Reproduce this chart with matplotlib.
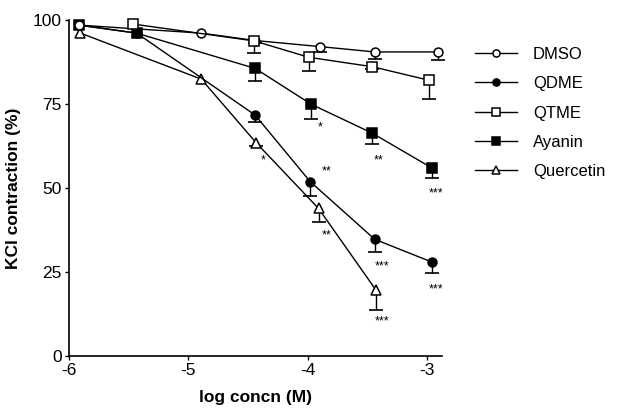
import numpy as np
import matplotlib
matplotlib.use('Agg')
import matplotlib.pyplot as plt

plt.rcParams['font.family'] = ['Liberation Sans', 'DejaVu Sans']
plt.rcParams['axes.unicode_minus'] = False

# log concentration (M) and % KCl contraction
x_dmso = [-5.915, -4.89, -4.44, -3.90, -3.44, -2.91]
y_dmso = [98.5, 96.1, 93.9, 92.1, 90.5, 90.5]
e_dmso = [0, 0, 0.8, 1.5, 2.0, 2.5]

x_qdme = [-5.915, -5.43, -4.44, -3.98, -3.44, -2.96]
y_qdme = [98.5, 96.1, 71.7, 51.9, 34.7, 27.9]
e_qdme = [0, 0, 2.0, 4.2, 3.7, 3.1]

x_qtme = [-5.46, -4.45, -3.99, -3.46, -2.99]
y_qtme = [98.8, 93.8, 88.9, 86.1, 82.1]
e_qtme = [0, 3.7, 4.0, 0.8, 5.5]

x_ayanin = [-5.915, -5.43, -4.44, -3.97, -3.46, -2.96]
y_ayanin = [98.5, 96.1, 85.6, 74.9, 66.3, 55.9]
e_ayanin = [0, 0, 3.9, 4.5, 3.3, 3.0]

x_querc = [-5.90, -4.89, -4.43, -3.91, -3.43]
y_querc = [96.1, 82.4, 63.4, 43.9, 19.6]
e_querc = [0, 0, 0.8, 4.0, 6.0]

# significance marks (label, x, y)
stars = [('*', -4.37, 58.3), ('**', -3.84, 54.8), ('*', -3.90, 67.9),
         ('**', -3.41, 58.3), ('***', -2.93, 48.5), ('**', -3.84, 36.0),
         ('***', -3.38, 26.5), ('***', -2.93, 19.9), ('***', -3.38, 10.1)]

fig = plt.figure(figsize=(6.23, 4.09), dpi=100)
ax = fig.add_axes([0.110, 0.130, 0.599, 0.821])

# (name, x, y, err, marker, face, size, zorder)
series = [
    ('DMSO', x_dmso, y_dmso, e_dmso, 'o', 'white', 6.4, 5.8),
    ('QDME', x_qdme, y_qdme, e_qdme, 'o', 'black', 6.4, 4),
    ('QTME', x_qtme, y_qtme, e_qtme, 's', 'white', 6.6, 6.5),
    ('Ayanin', x_ayanin, y_ayanin, e_ayanin, 's', 'black', 6.6, 5),
    ('Quercetin', x_querc, y_querc, e_querc, '^', 'white', 7.4, 3),
]

handles = []
for name, xs, ys, es, mk, fc, ms, z in series:
    xs, ys, es = np.array(xs), np.array(ys), np.array(es)
    # lower-only error bars with caps
    keep = es > 0
    ax.vlines(xs[keep], ys[keep] - es[keep], ys[keep], color='black', lw=1.0, zorder=z)
    ax.plot(xs[keep], ys[keep] - es[keep], ls='none', marker='_', ms=10, mew=1.2,
            color='black', zorder=z, clip_on=False)
    h, = ax.plot(xs, ys, '-', color='black', lw=1.0, marker=mk, ms=ms,
                 mfc=fc, mec='black', mew=1.1, zorder=z + 0.2, clip_on=False,
                 label=name)
    handles.append(h)

for s, sx, sy in stars:
    ax.text(sx, sy, s, ha='center', va='center', fontsize=9)

ax.set_xlim(-6, -2.88)
ax.set_ylim(0, 100)
ax.set_xticks([-6, -5, -4, -3])
ax.set_yticks([0, 25, 50, 75, 100])
ax.tick_params(direction='out', length=3, width=1, labelsize=12.5, pad=2)
for sp in ['top', 'right']:
    ax.spines[sp].set_visible(False)
for sp in ['left', 'bottom']:
    ax.spines[sp].set_linewidth(1.2)

ax.set_xlabel('log concn (M)', fontsize=12.5, fontweight='bold', labelpad=9)
ax.set_ylabel('KCl contraction (%)', fontsize=12.5, fontweight='bold', labelpad=8)

ax.legend(handles=handles, loc='upper left', bbox_to_anchor=(1.09, 0.92),
          frameon=False, fontsize=12, handlelength=2.5, handletextpad=0.95,
          labelspacing=0.86, borderpad=0, borderaxespad=0, markerscale=0.8)

plt.savefig('out.png', dpi=100, facecolor='white')
plt.close()
